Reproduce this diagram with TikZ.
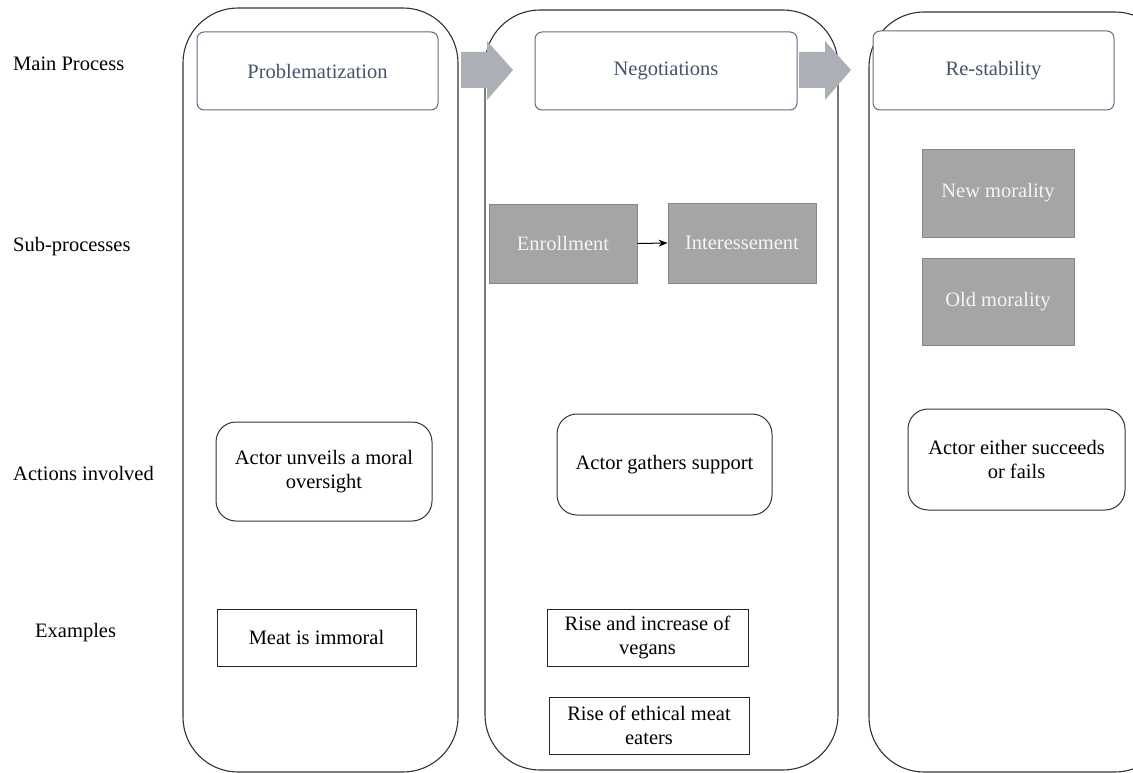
\documentclass[tikz,border=0pt]{standalone}
\usepackage{fontspec}
\setmainfont{Liberation Serif}
\usetikzlibrary{arrows.meta}
\definecolor{slate}{RGB}{68,84,106}
\definecolor{slateline}{RGB}{96,110,130}
\definecolor{arrowgray}{RGB}{172,175,182}
\definecolor{subgray}{RGB}{165,165,165}
\definecolor{subline}{RGB}{135,135,135}
\begin{document}
\begin{tikzpicture}[x=1pt,y=-1pt,
  every node/.style={font=\fontsize{20.5}{24}\selectfont, inner sep=0pt},
  column/.style={draw=black!80, line width=1.1pt, rounded corners=55pt},
  hdr/.style={draw=slateline, line width=1pt, rounded corners=7pt, text=slate, fill=white},
  sub/.style={draw=subline, line width=0.9pt, fill=subgray, text=black!4},
  act/.style={draw=black!80, line width=1pt, rounded corners=20pt, align=center, fill=white},
  ex/.style={draw=black!85, line width=1pt, align=center, fill=white},
  lbl/.style={anchor=west, text=black},
  bigarrow/.style={fill=arrowgray, draw=none}
]
\useasboundingbox (0,0) rectangle (1133,773);
\begin{scope}
\clip (0,0) rectangle (1133,773);
% columns
\draw[column] (183,8) rectangle (458,772);
\draw[column] (485,10) rectangle (838,770);
\draw[column] (869,12) rectangle (1170,772);
% block arrows
\fill[bigarrow] (461,52) -- (487,52) -- (487,41) -- (513,70) -- (487,100) -- (487,88) -- (461,88) -- cycle;
\fill[bigarrow] (799,52) -- (825,52) -- (825,41) -- (851,70) -- (825,100) -- (825,88) -- (799,88) -- cycle;
\end{scope}
% row labels
\node[lbl] (lmain) at (13,64) {Main Process};
\node[lbl] (lsub) at (13,247) {Sub-processes};
\node[lbl] (lact) at (13,473) {Actions involved};
\node[lbl] (lex) at (35,633) {Examples};
% headers
\node[hdr, minimum width=241pt, minimum height=78pt] (prob) at (317.5,71) {Problematization};
\node[hdr, minimum width=262pt, minimum height=78pt] (nego) at (666,71) {Negotiations};
\node[hdr, minimum width=241pt, minimum height=79pt] (rest) at (993.5,70.5) {Re-stability};
% sub-processes
\node[sub, minimum width=148pt, minimum height=79pt] (enr) at (563,243.5) {Enrollment};
\node[sub, minimum width=148pt, minimum height=80pt] (int) at (742,243) {Interessement};
\draw[-{Stealth[length=9pt,width=7pt]}, line width=1pt, black] (enr.east) -- (int.west);
\node[sub, minimum width=152pt, minimum height=88pt] (newm) at (998,193) {New morality};
\node[sub, minimum width=152pt, minimum height=87pt] (oldm) at (998,301.5) {Old morality};
% actions
\node[act, minimum width=216pt, minimum height=99pt] (a1) at (324,471.5) {Actor unveils a moral\\oversight};
\node[act, minimum width=215pt, minimum height=101pt] (a2) at (664.5,464.5) {Actor gathers support};
\node[act, minimum width=217pt, minimum height=101pt] (a3) at (1016.5,459.5) {Actor either succeeds\\or fails};
% examples
\node[ex, minimum width=199pt, minimum height=57pt] (e1) at (316.5,637.5) {Meat is immoral};
\node[ex, minimum width=201pt, minimum height=57pt] (e2) at (647.5,637.5) {Rise and increase of\\vegans};
\node[ex, minimum width=200pt, minimum height=57pt] (e3) at (649,725.5) {Rise of ethical meat\\eaters};
\end{tikzpicture}
\end{document}
